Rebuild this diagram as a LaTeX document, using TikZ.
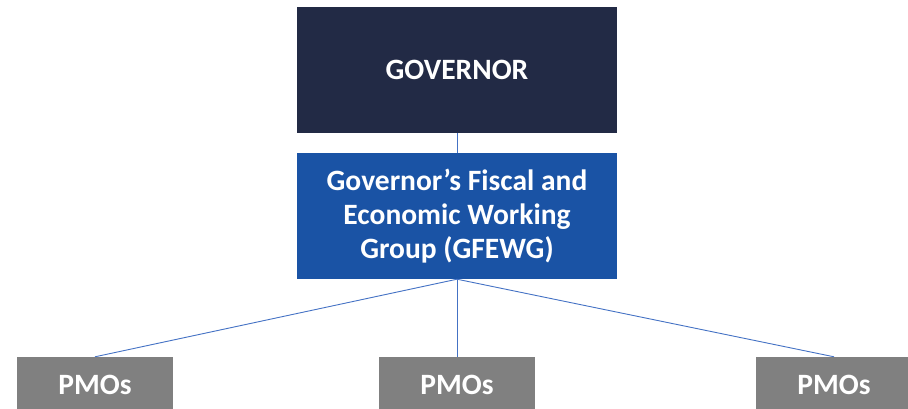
\documentclass[tikz,border=0pt]{standalone}
\usepackage{fontspec}
\setmainfont{Carlito}
\definecolor{navy}{HTML}{222A45}
\definecolor{gblue}{HTML}{1A53A5}
\definecolor{pgray}{HTML}{808080}
\definecolor{lineblue}{HTML}{4472C4}
\begin{document}
\begin{tikzpicture}[x=1pt,y=1pt,
  box/.style={draw=none,inner sep=0pt,align=center,text=white,font=\bfseries\fontsize{29.5}{34}\selectfont},
  conn/.style={draw=lineblue,line width=0.9pt}]
\useasboundingbox (0,0) rectangle (908,408);
\clip (0,0) rectangle (908,408);
\node[box,fill=navy,minimum width=320,minimum height=126] (gov) at (457,338) {GOVERNOR};
\node[box,fill=gblue,minimum width=320,minimum height=126] (wg) at (457,192) {Governor’s Fiscal and\\Economic Working\\Group (GFEWG)};
\node[box,fill=pgray,minimum width=156,minimum height=56] (p1) at (95,23) {PMOs};
\node[box,fill=pgray,minimum width=156,minimum height=56] (p2) at (457,23) {PMOs};
\node[box,fill=pgray,minimum width=156,minimum height=56] (p3) at (834,23) {PMOs};
\draw[conn] (gov.south) -- (wg.north);
\draw[conn] (wg.south) -- (p1.north);
\draw[conn] (wg.south) -- (p2.north);
\draw[conn] (wg.south) -- (p3.north);
\end{tikzpicture}
\end{document}
